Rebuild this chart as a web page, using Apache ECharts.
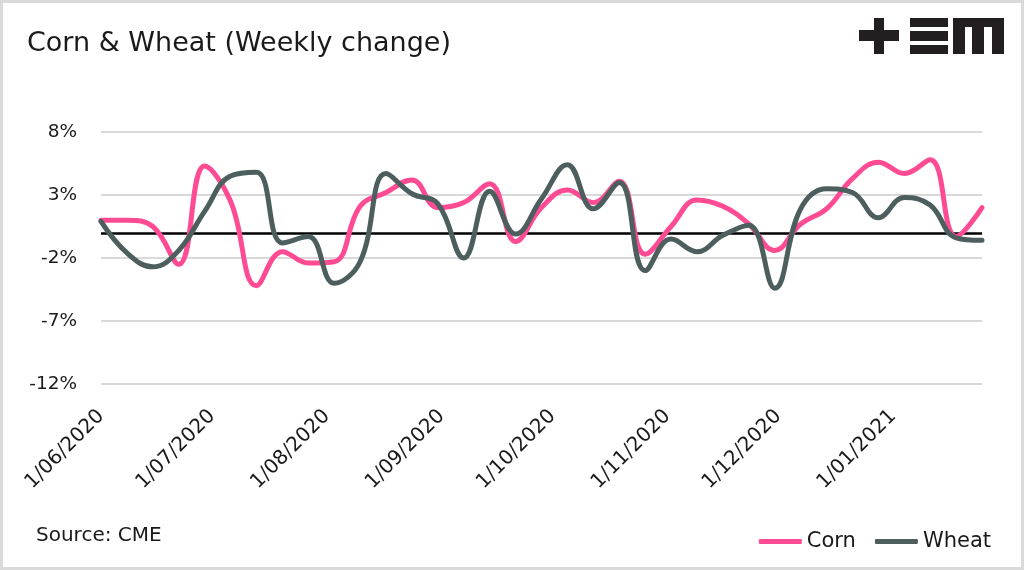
<!DOCTYPE html>
<html>
<head>
<meta charset="utf-8">
<script src="https://cdn.jsdelivr.net/npm/echarts@6/dist/echarts.min.js"></script>
<style>
html,body{margin:0;padding:0;background:#fff;}
#chart{width:1024px;height:570px;}
</style>
</head>
<body>
<div id="chart"></div>
<script>
// ---- data ----
const dates = ['2020-06-01','2020-06-08','2020-06-15','2020-06-22','2020-06-29',
  '2020-07-06','2020-07-13','2020-07-20','2020-07-27',
  '2020-08-03','2020-08-10','2020-08-17','2020-08-24','2020-08-31',
  '2020-09-07','2020-09-14','2020-09-21','2020-09-28',
  '2020-10-05','2020-10-12','2020-10-19','2020-10-26',
  '2020-11-02','2020-11-09','2020-11-16','2020-11-23','2020-11-30',
  '2020-12-07','2020-12-14','2020-12-21','2020-12-28',
  '2021-01-04','2021-01-11','2021-01-18','2021-01-25'];
const corn = [1.0, 1.0, 0.5, -2.5, 5.3, 2.5, -4.2, -1.5, -2.4, -2.3, 2.1, 3.2, 4.2, 2.0, 2.4, 3.9, -0.7, 2.0, 3.4, 2.4, 4.1, -1.7, 0.5, 2.6, 2.1, 0.7, -1.4, 0.7, 1.9, 4.3, 5.6, 4.7, 5.8, -0.3, 2.0];
const wheat = [0.9, -1.6, -2.7, -1.4, 1.7, 4.5, 4.8, -0.8, -0.3, -4.0, -2.3, 4.7, 3.1, 2.3, -2.0, 3.3, -0.1, 2.7, 5.4, 1.9, 4.0, -3.0, -0.5, -1.5, -0.2, 0.6, -4.4, 1.9, 3.5, 3.2, 1.2, 2.8, 2.2, -0.4, -0.6];
const xTickDates = ['2020-06-01','2020-07-01','2020-08-01','2020-09-01','2020-10-01','2020-11-01','2020-12-01','2021-01-01'];
const yTicks = [-12, -7, -2, 3, 8];
const seriesNames = ['Corn', 'Wheat'];

function toTs(s){ const p = s.split('-').map(Number); return new Date(p[0], p[1]-1, p[2]).getTime(); }
function pad(n){ return (n < 10 ? '0' : '') + n; }

const FONT = '"DejaVu Sans", sans-serif';
const chart = echarts.init(document.getElementById('chart'), null, {renderer:'canvas'});

const option = {
  backgroundColor: '#ffffff',
  animation: false,
  textStyle: { fontFamily: FONT },
  grid: { left: 101, right: 42, top: 132, bottom: 186 },
  legend: {
    data: seriesNames,
    right: 28, top: 526,
    icon: 'roundRect',
    itemWidth: 43, itemHeight: 5, itemGap: 19,
    textStyle: { fontFamily: FONT, fontSize: 21, color: '#1a1a1a' }
  },
  xAxis: {
    type: 'value',
    min: toTs(dates[0]),
    max: toTs(dates[dates.length-1]),
    axisLine: { show: false },
    axisTick: { show: false },
    splitLine: { show: false },
    axisLabel: {
      customValues: xTickDates.map(toTs),
      rotate: 45,
      margin: 29,
      fontSize: 20,
      color: '#1a1a1a',
      fontFamily: FONT,
      formatter: function (v) { const d = new Date(v); return d.getDate() + '/' + pad(d.getMonth()+1) + '/' + d.getFullYear(); }
    }
  },
  yAxis: {
    type: 'value',
    min: yTicks[0], max: yTicks[yTicks.length-1], interval: yTicks[1]-yTicks[0],
    axisLine: { show: false },
    axisTick: { show: false },
    splitLine: { lineStyle: { color: '#d9d9d9', width: 2 } },
    axisLabel: { formatter: '{value}%', fontSize: 18.5, color: '#1a1a1a', margin: 24, fontFamily: FONT }
  },
  series: [
    {
      name: seriesNames[0], type: 'line', smooth: 0.42, showSymbol: false, symbol: 'none', z: 3,
      data: dates.map((d,i) => [toTs(d), corn[i]]),
      lineStyle: { color: '#FF4B93', width: 5, cap: 'round', join: 'round' },
      itemStyle: { color: '#FF4B93' },
      markLine: {
        silent: true, symbol: 'none', z: 1,
        label: { show: false },
        lineStyle: { color: '#000000', width: 2.5, type: 'solid' },
        data: [{ yAxis: 0 }]
      }
    },
    {
      name: seriesNames[1], type: 'line', smooth: 0.42, showSymbol: false, symbol: 'none', z: 4,
      data: dates.map((d,i) => [toTs(d), wheat[i]]),
      lineStyle: { color: '#4D5E5E', width: 5, cap: 'round', join: 'round' },
      itemStyle: { color: '#4D5E5E' }
    }
  ],
  graphic: [
    { type: 'rect', shape: { x: 1.5, y: 1.5, width: 1021, height: 567 }, style: { fill: 'none', stroke: '#dadada', lineWidth: 3 }, silent: true },
    { type: 'text', left: 27, top: 30, style: { text: 'Corn & Wheat (Weekly change)', font: '27px ' + FONT, fill: '#1a1a1a' } },
    { type: 'text', left: 36, top: 526, style: { text: 'Source: CME', font: '20px ' + FONT, fill: '#1a1a1a' } },
    { type: 'group', silent: true, children: [
      { type: 'rect', shape: { x: 859, y: 30, width: 40, height: 11 }, style: { fill: '#231f20' } },
      { type: 'rect', shape: { x: 874, y: 18, width: 10, height: 36 }, style: { fill: '#231f20' } },
      { type: 'rect', shape: { x: 910, y: 18, width: 38, height: 9 }, style: { fill: '#231f20' } },
      { type: 'rect', shape: { x: 910, y: 31, width: 38, height: 10 }, style: { fill: '#231f20' } },
      { type: 'rect', shape: { x: 910, y: 45, width: 38, height: 9 }, style: { fill: '#231f20' } },
      { type: 'rect', shape: { x: 953, y: 18, width: 51, height: 9 }, style: { fill: '#231f20' } },
      { type: 'rect', shape: { x: 953, y: 18, width: 12, height: 36 }, style: { fill: '#231f20' } },
      { type: 'rect', shape: { x: 972, y: 18, width: 12, height: 36 }, style: { fill: '#231f20' } },
      { type: 'rect', shape: { x: 992, y: 18, width: 12, height: 36 }, style: { fill: '#231f20' } }
    ]}
  ]
};
chart.setOption(option);
</script>
</body>
</html>
